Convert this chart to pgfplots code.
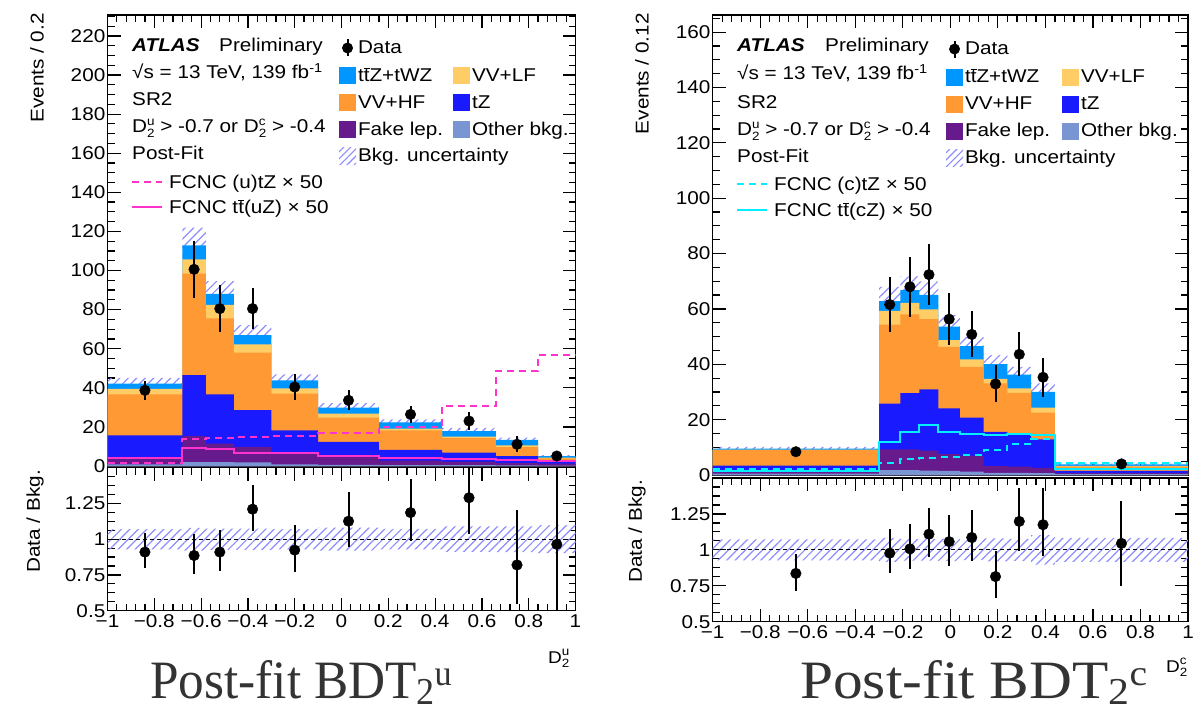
\documentclass[border=0pt]{standalone}
\usepackage{fontspec}
\setmainfont{Liberation Sans}[FakeStretch=1.12]
\newfontfamily\capfontL{Liberation Serif}[FakeStretch=0.95]
\newfontfamily\capfontR{Liberation Serif}[FakeStretch=1.1]
\usepackage{pgfplots}
\usepackage{pgfplotstable}
\pgfplotsset{compat=1.18}
\usepgfplotslibrary{fillbetween}
\usetikzlibrary{patterns.meta}

\definecolor{cTTZ}{RGB}{0,150,255}
\definecolor{cVVLF}{RGB}{255,204,102}
\definecolor{cVVHF}{RGB}{255,153,51}
\definecolor{cTZ}{RGB}{26,26,255}
\definecolor{cFake}{RGB}{102,26,140}
\definecolor{cOther}{RGB}{122,150,210}
\definecolor{cHatch}{RGB}{140,140,255}
\definecolor{cPink}{RGB}{255,51,204}
\definecolor{cCyan}{RGB}{0,240,255}

\newcommand\tbar{$\overline{\mbox{t}}$}
\newcommand\fs{\fontsize{18.5}{22}\selectfont}
\newcommand\Dsub[1]{D{\fontsize{12}{12}\selectfont\rlap{\raisebox{7.5pt}{#1}}\raisebox{-4.5pt}{2}}}

% left: bin low edge, cumulative stack, uncertainty, FCNC solid, FCNC dashed
\pgfplotstableread{
x other fake tz vvhf vvlf tot unc su du
-1    0.8  4.0 15.7 36.7 39.5 42.1 3.0 4.0 1.5
-0.68 2.0 15.3 46.5 98.4 105.7 112.9 9.0 9.4 13.6
-0.58 2.0 11.5 36.7 75.5 82.4 88.1 6.5 8.5 14.2
-0.46 1.8 9.8 28.6 58.0 62.2 67.0 5.0 6.8 14.8
-0.30 0.8 6.5 18.2 37.0 39.7 43.8 3.1 6.5 15.2
-0.10 0.6 4.5 12.3 24.7 26.8 29.8 2.4 5.1 16.7
0.16 0.5 2.8 8.2 18.2 19.1 22.3 1.6 4.3 20.1
0.43 0.4 2.2 6.8 14.2 15.0 17.9 1.6 3.7 30.7
0.66 0.3 1.5 5.1 9.7 10.6 13.3 1.2 3.2 48.6
0.84 0.2 1.2 2.6 3.9 4.3 5.1 0.5 2.5 56.8
1.00 0.2 1.2 2.6 3.9 4.3 5.1 0.5 2.5 56.8
}\Lstk
\pgfplotstableread{
xc y e
-0.84 38.7 5.0
-0.63 100.6 14.5
-0.52 80.5 12.0
-0.38 80.5 10.4
-0.20 40.4 6.6
0.03 33.6 5.1
0.295 26.4 4.5
0.545 23.0 4.7
0.75 11.1 4.0
0.92 5.1 2.5
}\Ldat
\pgfplotstableread{
xc r ep em
-0.84 0.91 0.13 0.11
-0.63 0.886 0.15 0.126
-0.52 0.91 0.157 0.13
-0.38 1.21 0.17 0.15
-0.20 0.924 0.176 0.15
0.03 1.126 0.207 0.178
0.295 1.186 0.238 0.198
0.545 1.29 0.25 0.254
0.75 0.82 0.387 0.272
0.92 0.964 0.6 0.6
}\Lrat
% right
\pgfplotstableread{
x other fake tz vvhf vvlf tot unc sc dc
-1    0.5 1.5 3.4 9.0 9.2 9.5 0.7 1.3 2.2
-0.30 1.8 9.3 25.8 54.3 59.3 62.8 5.2 12.0 4.2
-0.21 1.8 9.3 29.6 58.0 62.2 66.8 5.0 15.6 5.7
-0.13 1.6 8.8 30.9 56.3 59.8 65.1 4.9 18.0 6.3
-0.05 1.5 7.5 24.1 46.3 48.7 53.6 4.2 15.6 6.6
0.04 1.2 6.9 20.7 39.1 41.8 46.6 3.3 14.7 7.2
0.14 0.8 3.2 15.6 33.1 34.7 40.1 3.2 14.4 9.0
0.24 0.8 3.0 15.0 29.7 31.3 36.3 2.8 14.8 11.2
0.34 0.7 2.6 12.9 22.5 24.3 30.0 3.1 14.4 13.0
0.44 0.3 0.7 1.5 3.0 3.3 3.8 0.32 2.0 4.2
1.00 0.3 0.7 1.5 3.0 3.3 3.8 0.32 2.0 4.2
}\Rstk
\pgfplotstableread{
xc y e
-0.65 8.4 1.2
-0.255 61.6 9.8
-0.17 68.0 10.8
-0.09 72.4 11.0
-0.005 56.3 9.3
0.09 50.8 8.3
0.19 32.9 6.7
0.29 43.6 7.9
0.39 35.3 7.0
0.72 4.0 1.1
}\Rdat
\pgfplotstableread{
xc r ep em
-0.65 0.836 0.134 0.12
-0.255 0.977 0.171 0.141
-0.17 1.007 0.173 0.143
-0.09 1.109 0.181 0.159
-0.005 1.057 0.183 0.167
0.09 1.086 0.191 0.166
0.19 0.814 0.181 0.15
0.29 1.198 0.229 0.203
0.39 1.175 0.252 0.22
0.72 1.045 0.295 0.3
}\Rrat

\pgfplotsset{
  atl/.style={scale only axis, anchor=south west, xmin=-1, xmax=1,
    tick align=inside, major tick length=13pt, minor tick length=7pt,
    axis line style={line width=1.3pt}, tick style={line width=1.2pt, black},
    xtick={-1,-0.8,-0.6,-0.4,-0.2,0,0.2,0.4,0.6,0.8,1},
    minor xtick={-1,-0.96,...,1},
    tick label style={font=\fs, inner sep=2pt},
    /pgf/number format/assume math mode=true},
  mainax/.style={atl, ymin=0, xticklabels={},
    legend style={anchor=north west, draw=none, fill=none, inner sep=0pt, outer sep=0pt,
      row sep=9.75pt, column sep=2pt, font=\fs, nodes={inner sep=0pt}},
    legend cell align=left},
  ratax/.style={atl, ymin=0.5, ymax=1.5, ytick={0.5,0.75,1,1.25},
    yticklabels={0.5,0.75,1,1.25},
    minor ytick={0.5625,0.625,0.6875,0.8125,0.875,0.9375,1.0625,1.125,1.1875,1.3125,1.375,1.4375},
    xticklabels={−1,−0.8,−0.6,−0.4,−0.2,0,0.2,0.4,0.6,0.8,1},
    xticklabel style={yshift=-2pt}},
  dat/.style={only marks, mark=*, mark size=5.3pt, black, forget plot,
    error bars/.cd, y dir=both, y explicit, error mark=none,
    error bar style={line width=2pt, black}},
  stk/.style={const plot, draw=none, forget plot, fill=#1},
  hatch/.style={draw=none, forget plot, pattern={Lines[angle=45,distance=6pt,line width=1.2pt]}, pattern color=cHatch},
}
\newcommand\boxleg[1]{\addlegendimage{legend image code/.code={\fill[#1, draw=none] (0pt,-1.9pt) rectangle (17pt,15.1pt);}}}
\newcommand\dataleg{\addlegendimage{legend image code/.code={\path[draw=none,fill=none] (0pt,-1.9pt) rectangle (17pt,15.1pt); \draw[black,line width=2pt] (8.5pt,-1.9pt)--(8.5pt,15.1pt); \fill[black, draw=none] (8.5pt,6.6pt) circle (5.5pt);}}}
\newcommand\emptyleg{\addlegendimage{legend image code/.code={\path[draw=none,fill=none] (0pt,-1.9pt) rectangle (17pt,15.1pt);}}}
\newcommand\hatchleg{\addlegendimage{legend image code/.code={\path[draw=none, pattern={Lines[angle=45,distance=5pt,line width=1.1pt]}, pattern color=cHatch] (0pt,-1.9pt) rectangle (17pt,15.1pt);}}}
\newcommand\lt[2]{\smash{\makebox[#1][l]{#2}}}

\begin{document}
\begin{tikzpicture}[x=1pt,y=1pt,font=\fs]

% ================= LEFT MAIN =================
\begin{axis}[mainax, at={(107.5pt,244pt)}, width=468pt, height=451pt, ymax=230.7,
  ytick={0,20,...,220}, minor ytick={0,5,...,230},
  legend style={at={(0.4947,0.9479)}}, legend columns=2]
\addplot[stk=cTTZ] table[x=x,y=tot]{\Lstk} \closedcycle;
\addplot[stk=cVVLF] table[x=x,y=vvlf]{\Lstk} \closedcycle;
\addplot[stk=cVVHF] table[x=x,y=vvhf]{\Lstk} \closedcycle;
\addplot[stk=cTZ] table[x=x,y=tz]{\Lstk} \closedcycle;
\addplot[stk=cFake] table[x=x,y=fake]{\Lstk} \closedcycle;
\addplot[stk=cOther] table[x=x,y=other]{\Lstk} \closedcycle;
\addplot[const plot, draw=none, forget plot, name path=LU] table[x=x,y expr=\thisrow{tot}+\thisrow{unc}]{\Lstk};
\addplot[const plot, draw=none, forget plot, name path=LL] table[x=x,y expr=\thisrow{tot}-\thisrow{unc}]{\Lstk};
\addplot[hatch] fill between[of=LU and LL];
\addplot[const plot, cPink, line width=2pt, forget plot] table[x=x,y=su]{\Lstk};
\addplot[const plot, cPink, line width=2pt, dash pattern=on 7pt off 5pt, forget plot] table[x=x,y=du]{\Lstk};
\addplot[dat] table[x=xc,y=y,y error=e]{\Ldat};
\dataleg \addlegendentry{\lt{93pt}{Data}}
\emptyleg \addlegendentry{}
\boxleg{cTTZ} \addlegendentry{\lt{93pt}{t\tbar Z+tWZ}}
\boxleg{cVVLF} \addlegendentry{\lt{93pt}{VV+LF}}
\boxleg{cVVHF} \addlegendentry{\lt{93pt}{VV+HF}}
\boxleg{cTZ} \addlegendentry{\lt{93pt}{tZ}}
\boxleg{cFake} \addlegendentry{\lt{93pt}{Fake lep.}}
\boxleg{cOther} \addlegendentry{\lt{93pt}{Other bkg.}}
\hatchleg \addlegendentry{\lt{93pt}{Bkg. uncertainty}}
\end{axis}

% ================= LEFT RATIO =================
\begin{axis}[ratax, at={(107.5pt,99.3pt)}, width=468pt, height=143pt]
\addplot[const plot, draw=none, forget plot, name path=RLU] table[x=x,y expr=1+\thisrow{unc}/\thisrow{tot}]{\Lstk};
\addplot[const plot, draw=none, forget plot, name path=RLL] table[x=x,y expr=1-\thisrow{unc}/\thisrow{tot}]{\Lstk};
\addplot[hatch] fill between[of=RLU and RLL];
\addplot[black, line width=1pt, dash pattern=on 4pt off 3pt, forget plot] coordinates {(-1,1) (1,1)};
\addplot[dat] table[x=xc,y=r,y error plus=ep,y error minus=em]{\Lrat};
\end{axis}

% ================= RIGHT MAIN =================
\begin{axis}[mainax, at={(712.7pt,235pt)}, width=475.3pt, height=460pt, ymax=166.2,
  ytick={0,20,...,160}, minor ytick={0,5,...,165},
  legend style={at={(0.4909,0.9467)}, row sep=10pt}, legend columns=2]
\addplot[stk=cTTZ] table[x=x,y=tot]{\Rstk} \closedcycle;
\addplot[stk=cVVLF] table[x=x,y=vvlf]{\Rstk} \closedcycle;
\addplot[stk=cVVHF] table[x=x,y=vvhf]{\Rstk} \closedcycle;
\addplot[stk=cTZ] table[x=x,y=tz]{\Rstk} \closedcycle;
\addplot[stk=cFake] table[x=x,y=fake]{\Rstk} \closedcycle;
\addplot[stk=cOther] table[x=x,y=other]{\Rstk} \closedcycle;
\addplot[const plot, draw=none, forget plot, name path=RU] table[x=x,y expr=\thisrow{tot}+\thisrow{unc}]{\Rstk};
\addplot[const plot, draw=none, forget plot, name path=RL] table[x=x,y expr=\thisrow{tot}-\thisrow{unc}]{\Rstk};
\addplot[hatch] fill between[of=RU and RL];
\addplot[const plot, cCyan, line width=2pt, forget plot] table[x=x,y=sc]{\Rstk};
\addplot[const plot, cCyan, line width=2pt, dash pattern=on 7pt off 5pt, forget plot] table[x=x,y=dc]{\Rstk};
\addplot[dat] table[x=xc,y=y,y error=e]{\Rdat};
\dataleg \addlegendentry{\lt{95pt}{Data}}
\emptyleg \addlegendentry{}
\boxleg{cTTZ} \addlegendentry{\lt{95pt}{t\tbar Z+tWZ}}
\boxleg{cVVLF} \addlegendentry{\lt{95pt}{VV+LF}}
\boxleg{cVVHF} \addlegendentry{\lt{95pt}{VV+HF}}
\boxleg{cTZ} \addlegendentry{\lt{95pt}{tZ}}
\boxleg{cFake} \addlegendentry{\lt{95pt}{Fake lep.}}
\boxleg{cOther} \addlegendentry{\lt{95pt}{Other bkg.}}
\hatchleg \addlegendentry{\lt{95pt}{Bkg. uncertainty}}
\end{axis}

% ================= RIGHT RATIO =================
\begin{axis}[ratax, at={(712.7pt,88.3pt)}, width=475.3pt, height=143.7pt]
\addplot[const plot, draw=none, forget plot, name path=RRU] table[x=x,y expr=1+\thisrow{unc}/\thisrow{tot}]{\Rstk};
\addplot[const plot, draw=none, forget plot, name path=RRL] table[x=x,y expr=1-\thisrow{unc}/\thisrow{tot}]{\Rstk};
\addplot[hatch] fill between[of=RRU and RRL];
\addplot[black, line width=1pt, dash pattern=on 4pt off 3pt, forget plot] coordinates {(-1,1) (1,1)};
\addplot[dat] table[x=xc,y=r,y error plus=ep,y error minus=em]{\Rrat};
\end{axis}

% ================= TEXT =================
\begin{scope}[every node/.style={anchor=base west, inner sep=0pt}]
\node at (132,658.4) {\textbf{\textit{ATLAS}}};
\node at (219,658.4) {Preliminary};
\node at (132,631.4) {√s = 13 TeV, 139 fb\textsuperscript{-1}};
\node at (132,604.4) {SR2};
\node at (132,577.4) {\Dsub{u} > -0.7 or \Dsub{c} > -0.4};
\node at (132,550.4) {Post-Fit};
\node at (169,521.4) {FCNC (u)tZ × 50};
\node at (169,496.4) {FCNC t\tbar(uZ) × 50};

\node at (737,658.4) {\textbf{\textit{ATLAS}}};
\node at (825,658.4) {Preliminary};
\node at (737,630.4) {√s = 13 TeV, 139 fb\textsuperscript{-1}};
\node at (737,601.4) {SR2};
\node at (737,574.4) {\Dsub{u} > -0.7 or \Dsub{c} > -0.4};
\node at (737,547.4) {Post-Fit};
\node at (774,519.4) {FCNC (c)tZ × 50};
\node at (774,493.4) {FCNC t\tbar(cZ) × 50};
\end{scope}
\draw[cPink, line width=2pt, dash pattern=on 7pt off 5pt] (132,528) -- (162,528);
\draw[cPink, line width=2pt] (132,503) -- (162,503);
\draw[cCyan, line width=2pt, dash pattern=on 7pt off 5pt] (737,526) -- (767,526);
\draw[cCyan, line width=2pt] (737,500) -- (767,500);

% axis titles
\node[rotate=90, anchor=east, inner sep=0pt] at (37,697) {Events / 0.2};
\node[rotate=90, anchor=east, inner sep=0pt] at (642,697) {Events / 0.12};
\node[rotate=90, anchor=east, inner sep=0pt] at (35,240) {Data / Bkg.};
\node[rotate=90, anchor=east, inner sep=0pt] at (637,230) {Data / Bkg.};
\node[anchor=base west, inner sep=0pt, font=\fontsize{17}{18}\selectfont] at (548,47) {\Dsub{u}};
\node[anchor=base west, inner sep=0pt, font=\fontsize{17}{18}\selectfont] at (1166,38) {\Dsub{c}};

% captions
\node[anchor=base west, inner sep=0pt, font=\capfontL\fontsize{54}{60}\selectfont, text=black!80] at (150,12) {Post-fit BDT{\fontsize{38}{38}\selectfont\raisebox{-6pt}{2}{\fontsize{36}{36}\selectfont\raisebox{13pt}{u}}}};
\node[anchor=base west, inner sep=0pt, font=\capfontR\fontsize{54}{60}\selectfont, text=black!80] at (800,12) {Post-fit BDT{\fontsize{38}{38}\selectfont\raisebox{-6pt}{2}{\fontsize{36}{36}\selectfont\raisebox{13pt}{c}}}};

\pgfresetboundingbox
\path (0,0) rectangle (1201,710);
\end{tikzpicture}
\end{document}
